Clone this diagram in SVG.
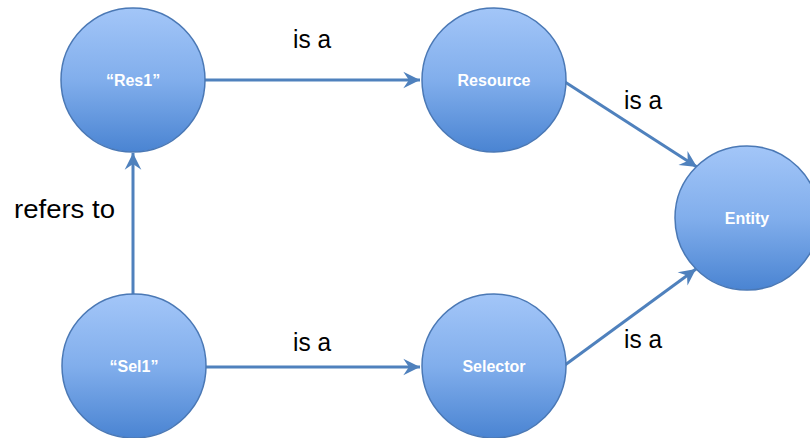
<svg xmlns="http://www.w3.org/2000/svg" width="810" height="438" viewBox="0 0 810 438">
  <defs>
    <linearGradient id="ballFill" x1="0" y1="0" x2="0" y2="1">
      <stop offset="0" stop-color="#a3c6f8"/>
      <stop offset="0.5" stop-color="#81aeec"/>
      <stop offset="1" stop-color="#4a84d2"/>
    </linearGradient>
    <marker id="head" markerUnits="userSpaceOnUse" markerWidth="20" markerHeight="20" viewBox="-16 -9 18 18" refX="0" refY="0" orient="auto">
      <path d="M0,0 L-15,-7.5 L-10,0 L-15,7.5 Z" fill="#4f81bd"/>
    </marker>
  </defs>
  <style>
    .ball { fill: url(#ballFill); stroke: #4a78b5; stroke-width: 1.5; }
    .name { font-family: "Liberation Sans", Arial, sans-serif; font-weight: bold; font-size: 16px; fill: #ffffff; text-anchor: middle; }
    .edge { stroke: #4f81bd; stroke-width: 3; fill: none; marker-end: url(#head); }
    .label { font-family: "Liberation Sans", Arial, sans-serif; font-size: 26px; fill: #000000; }
  </style>
  <rect width="810" height="438" fill="#ffffff"/>

  <g id="connectors">
    <line class="edge" x1="205" y1="80" x2="420" y2="80"/>
    <line class="edge" x1="206" y1="367" x2="420" y2="367"/>
    <line class="edge" x1="133" y1="294" x2="133" y2="153"/>
    <line class="edge" x1="565" y1="82" x2="697" y2="167"/>
    <line class="edge" x1="565" y1="365" x2="696" y2="269"/>
  </g>

  <g id="res1">
    <circle class="ball" cx="133" cy="80" r="72"/>
    <text class="name" x="133" y="86">“Res1”</text>
  </g>
  <g id="resource">
    <circle class="ball" cx="494" cy="80" r="72"/>
    <text class="name" x="494" y="86">Resource</text>
  </g>
  <g id="entity">
    <circle class="ball" cx="747" cy="218" r="72"/>
    <text class="name" x="747" y="224">Entity</text>
  </g>
  <g id="sel1">
    <circle class="ball" cx="134" cy="366" r="72"/>
    <text class="name" x="134" y="372">“Sel1”</text>
  </g>
  <g id="selector">
    <circle class="ball" cx="494" cy="366" r="72"/>
    <text class="name" x="494" y="372">Selector</text>
  </g>

  <g id="labels">
    <text class="label" x="293" y="48" textLength="38" lengthAdjust="spacingAndGlyphs">is a</text>
    <text class="label" x="293" y="351" textLength="38" lengthAdjust="spacingAndGlyphs">is a</text>
    <text class="label" x="624" y="109" textLength="38" lengthAdjust="spacingAndGlyphs">is a</text>
    <text class="label" x="624" y="348" textLength="38" lengthAdjust="spacingAndGlyphs">is a</text>
    <text class="label" x="14" y="218" textLength="101" lengthAdjust="spacingAndGlyphs">refers to</text>
  </g>
</svg>
